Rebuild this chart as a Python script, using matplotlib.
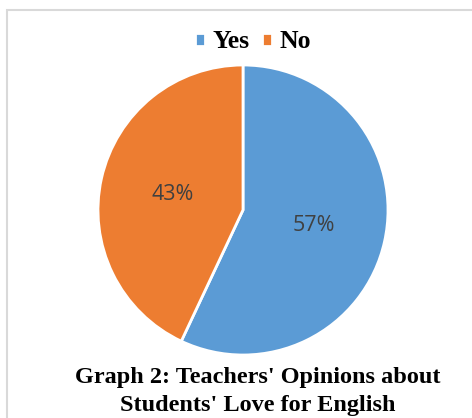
import matplotlib
matplotlib.use("Agg")
import matplotlib.pyplot as plt
import matplotlib.patches as mpatches

# Data
labels = ['Yes', 'No']
shares = [57, 43]
colors = ['#5B9BD5', '#ED7D31']
title_lines = ["Graph 2: Teachers' Opinions about", "Students' Love for English"]

W, H = 472, 418
fig = plt.figure(figsize=(W / 100, H / 100), dpi=100)
fig.patch.set_facecolor('white')

# one axes over the whole figure, in pixel units
ax = fig.add_axes([0, 0, 1, 1])

wedges, texts, autotexts = ax.pie(
    shares, colors=colors, startangle=90, counterclock=False,
    center=(243, H - 210), radius=145, autopct='%1.0f%%', pctdistance=0.5,
    wedgeprops={'edgecolor': 'white', 'linewidth': 2},
    textprops={'fontsize': 15.5, 'color': '#404040', 'family': 'Open Sans'},
    frame=True)
ax.set_xlim(0, W)
ax.set_ylim(0, H)
ax.set_aspect('equal')
ax.axis('off')

# light grey frame around the chart area
ax.add_patch(mpatches.Rectangle((7, -20), 500, H - 10 + 20, fill=False,
                                edgecolor='#D9D9D9', linewidth=1.5))

fig.legend(wedges, labels, loc='center', bbox_to_anchor=(253 / W, 1 - 42 / H),
           ncol=2, frameon=False, handlelength=0.38, handleheight=0.38,
           handletextpad=0.3, columnspacing=0.5,
           prop={'family': 'Liberation Serif', 'weight': 'bold', 'size': 18.5})

# title, two lines placed by baseline
for line, base in zip(title_lines, [383, 411]):
    fig.text(258 / W, 1 - base / H, line, ha='center', va='baseline',
             fontsize=17.5, fontweight='bold', family='Liberation Serif')

fig.savefig('out.png', dpi=100)
